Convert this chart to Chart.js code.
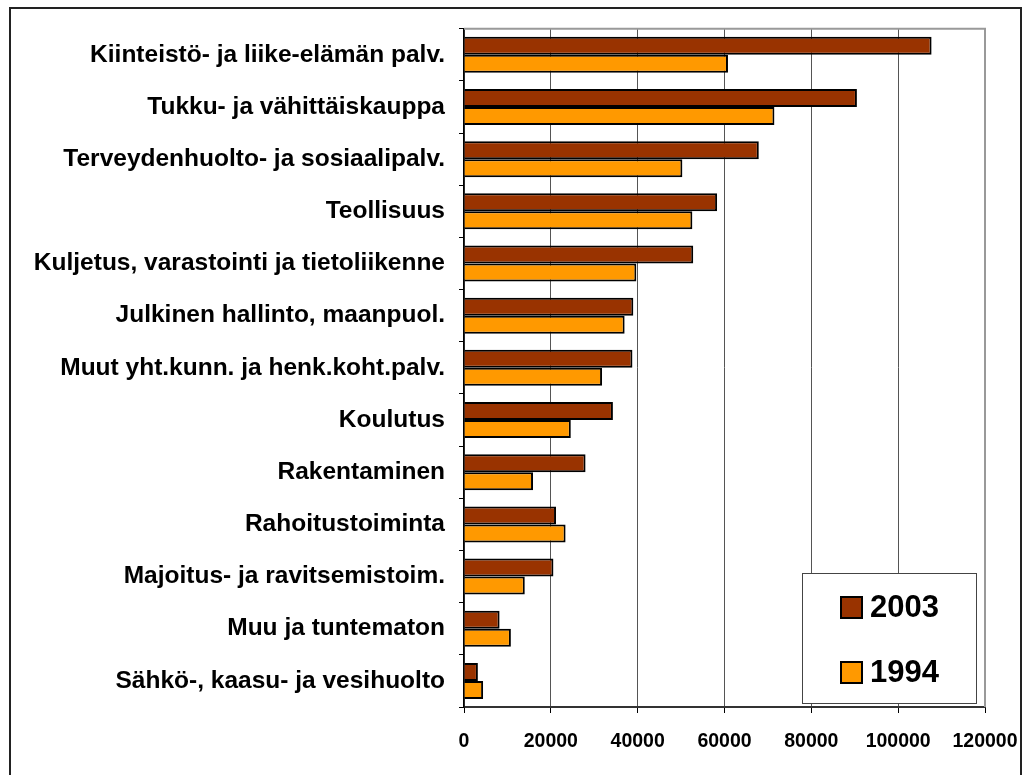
<!DOCTYPE html>
<html>
<head>
<meta charset="utf-8">
<script src="https://cdn.jsdelivr.net/npm/chart.js@4/dist/chart.umd.min.js"></script>
<style>
  html, body { margin: 0; padding: 0; background: #fff; overflow: hidden; }
  #wrap { position: relative; width: 1025px; height: 775px; }
  #frame { position: absolute; left: 9px; top: 7px; width: 1013px; height: 800px;
           border: 2px solid #222; box-sizing: border-box; pointer-events: none; }
  canvas { position: absolute; left: 0; top: 0; }
</style>
</head>
<body>
<div id="wrap">
  <canvas id="barChart" width="1025" height="775"></canvas>
  <div id="frame"></div>
</div>
<script>
'use strict';

var categories = [
    "Kiinteistö- ja liike-elämän palv.",
    "Tukku- ja vähittäiskauppa",
    "Terveydenhuolto- ja sosiaalipalv.",
    "Teollisuus",
    "Kuljetus, varastointi ja tietoliikenne",
    "Julkinen hallinto, maanpuol.",
    "Muut yht.kunn. ja henk.koht.palv.",
    "Koulutus",
    "Rakentaminen",
    "Rahoitustoiminta",
    "Majoitus- ja ravitsemistoim.",
    "Muu ja tuntematon",
    "Sähkö-, kaasu- ja vesihuolto"
];
var values2003 = [107700, 90500, 67900, 58300, 52800, 39000, 38800, 34300, 28000, 21200, 20600, 8200, 3200];
var values1994 = [60800, 71500, 50300, 52600, 39700, 37000, 31800, 24600, 15900, 23400, 14000, 10800, 4400];
var seriesLabels = ["2003", "1994"];
var xTicks = [0, 20000, 40000, 60000, 80000, 100000, 120000];

var color2003 = '#993300';
var color1994 = '#FF9900';
var fontFamily = "'Liberation Sans', Arial, sans-serif";

// grey frame on top and right of the plot area
var plotFrame = {
    id: 'plotFrame',
    afterDraw: function(chart) {
        var a = chart.chartArea, ctx = chart.ctx;
        ctx.save();
        ctx.strokeStyle = '#999';
        ctx.lineWidth = 2;
        ctx.beginPath();
        ctx.moveTo(a.left, a.top);
        ctx.lineTo(a.right, a.top);
        ctx.lineTo(a.right, a.bottom);
        ctx.stroke();
        ctx.restore();
    }
};

// boxed legend inside the plot, bottom right
var boxLegend = {
    id: 'boxLegend',
    afterDraw: function(chart) {
        var a = chart.chartArea, ctx = chart.ctx;
        var w = 174, h = 130;
        var x = a.right - 9 - w, y = a.bottom - 4 - h;
        ctx.save();
        ctx.fillStyle = '#fff';
        ctx.fillRect(x, y, w, h);
        ctx.strokeStyle = '#444';
        ctx.lineWidth = 1;
        ctx.strokeRect(x + 0.5, y + 0.5, w, h);
        ctx.font = 'bold 31px ' + fontFamily;
        ctx.textBaseline = 'middle';
        chart.data.datasets.forEach(function(ds, i) {
            var cy = y + 34 + i * 65;
            ctx.fillStyle = ds.backgroundColor;
            ctx.fillRect(x + 39, cy - 10, 21, 21);
            ctx.strokeStyle = '#000';
            ctx.lineWidth = 2;
            ctx.strokeRect(x + 39, cy - 10, 21, 21);
            ctx.fillStyle = '#000';
            ctx.fillText(ds.label, x + 68, cy + 1);
        });
        ctx.restore();
    }
};

var barChart = new Chart(document.getElementById('barChart'), {
    type: 'bar',
    data: {
        labels: categories,
        datasets: [
            {
                label: seriesLabels[0],
                data: values2003,
                backgroundColor: color2003,
                borderColor: '#000',
                borderWidth: 2,
                categoryPercentage: 0.69,
                barPercentage: 1.0
            },
            {
                label: seriesLabels[1],
                data: values1994,
                backgroundColor: color1994,
                borderColor: '#000',
                borderWidth: 2,
                categoryPercentage: 0.69,
                barPercentage: 1.0
            }
        ]
    },
    options: {
        indexAxis: 'y',
        responsive: false,
        animation: false,
        devicePixelRatio: 1,
        layout: { padding: { top: 28, right: 40, left: 0, bottom: 0 } },
        plugins: {
            legend: { display: false },
            tooltip: { enabled: false }
        },
        scales: {
            x: {
                min: 0,
                max: 120000,
                afterBuildTicks: function(scale) {
                    scale.ticks = xTicks.map(function(v) { return { value: v }; });
                },
                afterFit: function(scale) {
                    scale.height = 68;
                    scale.paddingLeft = 0;
                    scale.paddingRight = 0;
                },
                border: { color: '#333', width: 2 },
                grid: {
                    color: '#555',
                    lineWidth: 1,
                    tickColor: '#000',
                    tickLength: 6
                },
                ticks: {
                    color: '#000',
                    padding: 17,
                    maxRotation: 0,
                    font: { family: fontFamily, size: 19.5, weight: 'bold' },
                    callback: function(v) { return String(v); }
                }
            },
            y: {
                afterFit: function(scale) { scale.width = 464; },
                border: { color: '#000', width: 1.5 },
                grid: {
                    drawOnChartArea: false,
                    tickColor: '#000',
                    tickLength: 5
                },
                ticks: {
                    color: '#000',
                    padding: 14,
                    autoSkip: false,
                    font: { family: fontFamily, size: 24.5, weight: 'bold' }
                }
            }
        }
    },
    plugins: [plotFrame, boxLegend]
});
</script>
</body>
</html>
